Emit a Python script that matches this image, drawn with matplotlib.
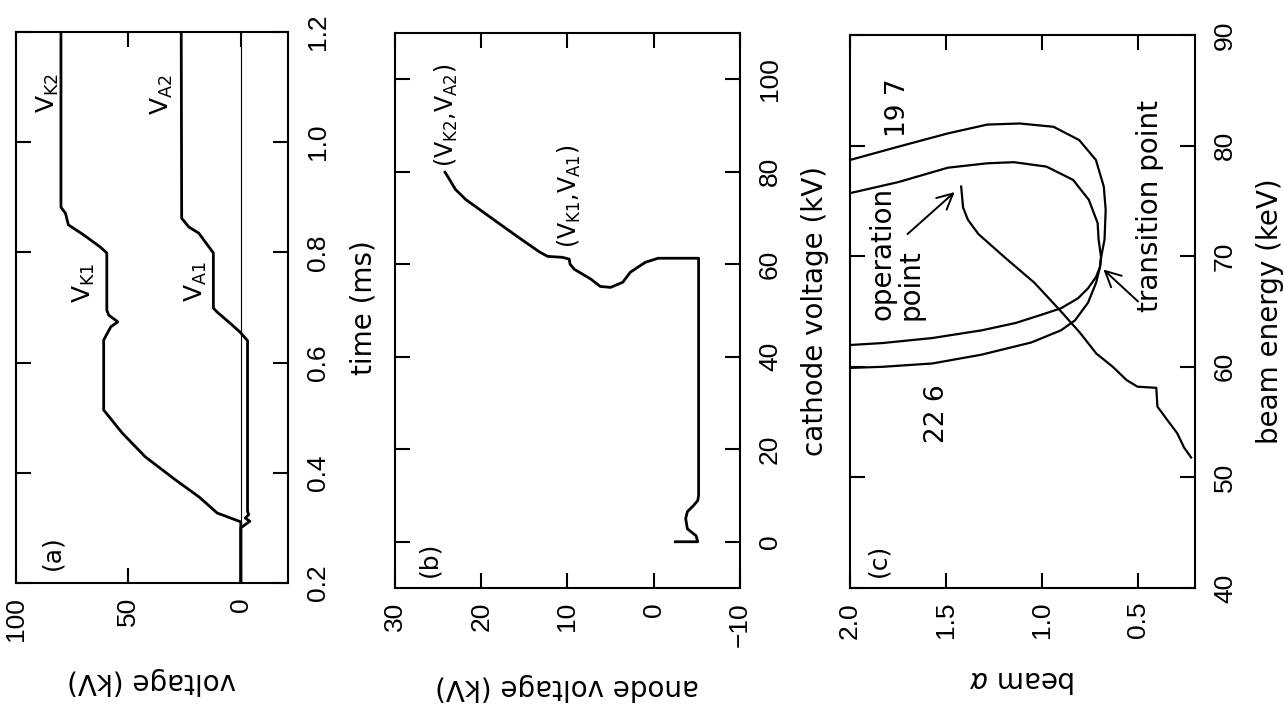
import matplotlib.pyplot as plt

# panel (a): voltage traces vs time
t_cathode = [0.20, 0.300, 0.311, 0.327, 0.356, 0.387, 0.429, 0.472, 0.514, 0.641, 0.665, 0.674,
             0.686, 0.695, 0.799, 0.810, 0.832, 0.850, 0.871, 0.882, 1.20]
v_cathode = [0, 0, 0, 10.5, 18.5, 29, 42.5, 52.7, 61, 61, 57.8, 54.7,
             58.7, 59.6, 59.6, 62.6, 70, 76.7, 78, 80, 80]
t_anode = [0.20, 0.300, 0.306, 0.312, 0.318, 0.324, 0.330, 0.640, 0.656, 0.672, 0.692, 0.699,
           0.799, 0.810, 0.835, 0.846, 0.862, 1.20]
v_anode = [0, 0, -2, -4, -2, -3.5, -3, -3, 0.5, 4.9, 10.6, 12.2,
           12.2, 14.2, 18.7, 23.1, 26.3, 26.5]

# panel (b): anode voltage vs cathode voltage
cathode_b = [0, 0, 1.3, 2.8, 5.0, 6.5, 7.8, 8.9, 10.0, 61.3, 61.3, 60.4, 58.3, 56.1, 55.0, 55.2,
             56.8, 58.9, 60.0, 61.1, 61.5, 61.7, 62.6, 66.1, 69.7, 74.0, 76.2, 79.0, 79.9]
anode_b = [-2.5, -5.1, -4.9, -3.9, -3.7, -3.9, -4.6, -5.1, -5.2, -5.2, -0.5, 1.0, 2.7, 3.6, 5.0, 6.2,
           7.3, 9.2, 9.7, 9.8, 10.6, 12.3, 13.2, 15.9, 18.6, 21.8, 23.0, 23.9, 24.2]

# panel (c): beam alpha vs beam energy
alpha_outer = [2.0, 1.748, 1.490, 1.284, 1.114, 0.938, 0.804, 0.717, 0.676, 0.666, 0.672, 0.690,
               0.696, 0.717, 0.758, 0.810, 0.898, 1.002, 1.136, 1.312, 1.571, 1.829, 2.0]
energy_outer = [78.7, 79.9, 81.1, 81.9, 82.0, 81.7, 80.5, 78.7, 76.3, 74.2, 71.5, 69.9,
                69.0, 68.1, 67.1, 66.2, 65.3, 64.7, 63.96, 63.3, 62.6, 62.15, 61.97]
alpha_inner = [2.0, 1.748, 1.49, 1.284, 1.145, 0.975, 0.836, 0.754, 0.708, 0.703, 0.690,
               0.696, 0.716, 0.758, 0.826, 0.899, 1.054, 1.313, 1.571, 1.83, 2.0]
energy_inner = [75.7, 76.7, 78.0, 78.4, 78.5, 78.1, 76.9, 75.1, 73.0, 71.5, 69.9,
                69.0, 67.6, 65.8, 64.2, 63.3, 62.2, 61.1, 60.3, 60.0, 59.9]
alpha_op = [1.42, 1.41, 1.385, 1.33, 1.193, 1.038, 0.904, 0.801, 0.715, 0.629, 0.557, 0.500,
            0.402, 0.396, 0.345, 0.293, 0.257, 0.220]
energy_op = [76.3, 74.4, 73.3, 72.0, 69.9, 67.6, 65.1, 63.1, 61.2, 60.0, 58.8, 58.2,
             58.1, 56.4, 55.2, 54.0, 52.7, 51.8]

W, H = 1284, 706
TXT = 20


def style(ax, xlim, ylim, xticks, xlabels, yticks, ylabels, xlabel, ylabel):
    # page is turned 90 deg: x axis carries the original y values
    ax.set_xlim(*xlim)
    ax.set_ylim(*ylim)
    ax.set_xticks(xticks, xlabels, rotation=90, ha='center', va='top')
    ax.set_yticks(yticks, ylabels, rotation=90, ha='left', va='center')
    ax.tick_params(direction='in', length=11, width=1.5, top=True, bottom=True,
                   left=True, right=True, labelleft=False, labelright=True,
                   labelsize=19, labelfontfamily='Liberation Sans')
    ax.tick_params(axis='x', pad=10)
    ax.tick_params(axis='y', pad=13)
    ax.yaxis.set_label_position('right')
    ax.set_xlabel(xlabel, rotation=180, fontsize=TXT, labelpad=19)
    ax.set_ylabel(ylabel, fontsize=TXT, labelpad=14)
    for s in ax.spines.values():
        s.set_linewidth(1.5)


def rtext(ax, x, y, s, size=TXT, **kw):
    ax.text(x, y, s, rotation=90, rotation_mode='anchor', ha='left', va='center',
            fontsize=size, **kw)


fig = plt.figure(figsize=(W / 100, H / 100), dpi=100)
ax_a = fig.add_axes([16 / W, 1 - 583 / H, 272 / W, 551 / H])
ax_b = fig.add_axes([395 / W, 1 - 588 / H, 345 / W, 555 / H])
ax_c = fig.add_axes([850 / W, 1 - 588 / H, 345 / W, 553 / H])

# (a)
ax_a.axvline(0, color='black', lw=0.8)
ax_a.plot(v_cathode, t_cathode, color='black', lw=2)
ax_a.plot(v_anode, t_anode, color='black', lw=2)
style(ax_a, (100, -21), (0.2, 1.2), [100, 50, 0], ['100', '50', '0'],
      [0.2, 0.4, 0.6, 0.8, 1.0, 1.2], ['0.2', '0.4', '0.6', '0.8', '1.0', '1.2'],
      'voltage (kV)', 'time (ms)')
rtext(ax_a, 84, 0.224, '(a)', 18)
rtext(ax_a, 86, 1.053, r'V$_{\mathrm{K2}}$', 18)
rtext(ax_a, 35, 1.05, r'V$_{\mathrm{A2}}$', 18)
rtext(ax_a, 70, 0.708, r'V$_{\mathrm{K1}}$', 18)
rtext(ax_a, 20, 0.71, r'V$_{\mathrm{A1}}$', 18)

# (b)
ax_b.plot(anode_b, cathode_b, color='black', lw=2)
style(ax_b, (30, -10), (-10, 110), [30, 20, 10, 0, -10], ['30', '20', '10', '0', '\u221210'],
      [0, 20, 40, 60, 80, 100], ['0', '20', '40', '60', '80', '100'],
      'anode voltage (kV)', 'cathode voltage (kV)')
rtext(ax_b, 26, -7.6, '(b)', 18)
rtext(ax_b, 24, 81, r'(V$_{\mathrm{K2}}$,V$_{\mathrm{A2}}$)', 17)
rtext(ax_b, 9.8, 63.5, r'(V$_{\mathrm{K1}}$,V$_{\mathrm{A1}}$)', 17)

# (c)
ax_c.plot(alpha_outer, energy_outer, color='black', lw=1.6)
ax_c.plot(alpha_inner, energy_inner, color='black', lw=1.6)
ax_c.plot(alpha_op, energy_op, color='black', lw=1.6)
style(ax_c, (2.0, 0.2), (40, 90), [2.0, 1.5, 1.0, 0.5], ['2.0', '1.5', '1.0', '0.5'],
      [40, 50, 60, 70, 80, 90], ['40', '50', '60', '70', '80', '90'],
      r'beam $\alpha$', 'beam energy (keV)')
rtext(ax_c, 1.85, 41.0, '(c)', 18)
rtext(ax_c, 1.75, 80.8, '19 7', 19)
rtext(ax_c, 1.545, 53.1, '22 6', 19)
rtext(ax_c, 1.757, 64.2, 'operation\npoint', TXT, linespacing=1.0)
rtext(ax_c, 0.436, 65.0, 'transition point', TXT)
arrow = dict(arrowstyle='->', lw=1.4, color='black', mutation_scale=28, shrinkA=0, shrinkB=0)
ax_c.annotate('', xy=(1.454, 75.8), xytext=(1.70, 72.0), arrowprops=arrow)
ax_c.annotate('', xy=(0.678, 68.8), xytext=(0.497, 65.9), arrowprops=arrow)

fig.savefig('out.png', dpi=100)
